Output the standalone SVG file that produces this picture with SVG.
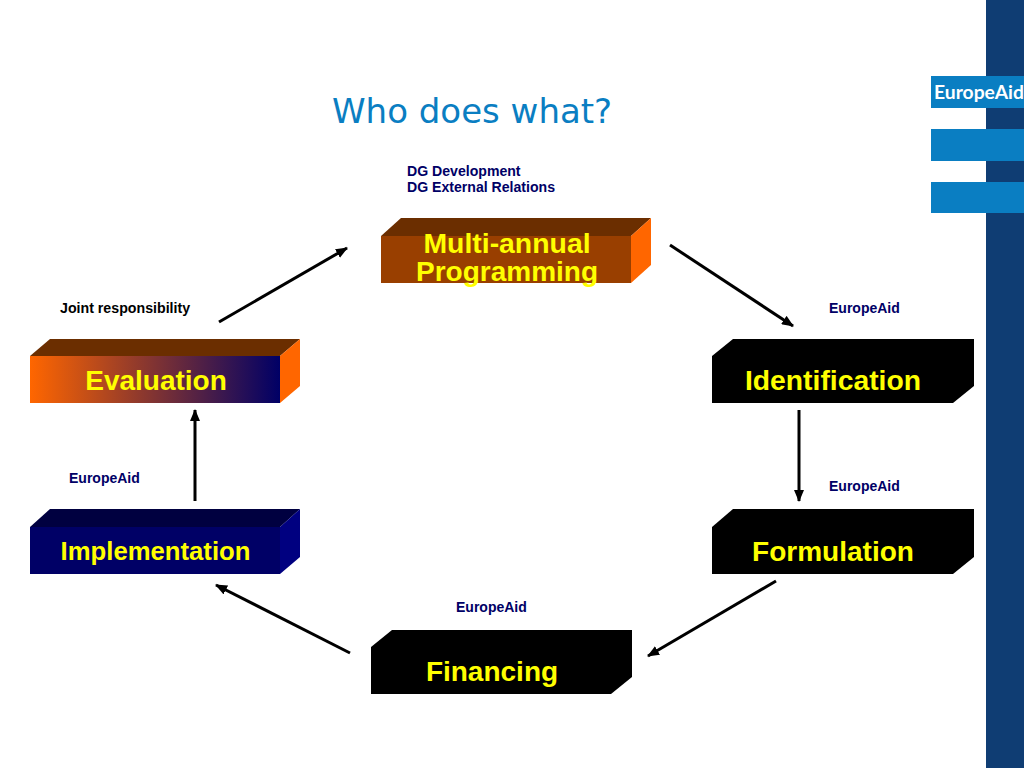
<svg xmlns="http://www.w3.org/2000/svg" width="1024" height="768" viewBox="0 0 1024 768">
<style>
.t{font-family:"Liberation Sans",Arial,sans-serif;font-weight:bold;font-size:28px;fill:#ffff00;text-anchor:middle}
.l{font-family:"Liberation Sans",Arial,sans-serif;font-weight:bold;font-size:14px;fill:#000066}
.c{stroke:#000;stroke-width:3;fill:none;marker-end:url(#a)}
.b{fill:#000}
</style>
<defs>
<marker id="a" markerUnits="userSpaceOnUse" markerWidth="12" markerHeight="10" refX="11" refY="5" orient="auto"><path d="M0 0L12 5L0 10Z" fill="#000"/></marker>
<linearGradient id="g"><stop offset="0" stop-color="#ff6600"/><stop offset="1" stop-color="#000066"/></linearGradient>
</defs>
<rect width="1024" height="768" fill="#fff"/>
<g id="brand">
<rect x="986" width="38" height="768" fill="#0f3d73"/>
<rect x="931" y="76" width="93" height="32" fill="#0a7ec2"/>
<rect x="931" y="129" width="93" height="32" fill="#0a7ec2"/>
<rect x="931" y="182" width="93" height="31" fill="#0a7ec2"/>
<text x="934" y="99" font-family="Lato,sans-serif" font-weight="bold" font-size="19.3" fill="#fff">EuropeAid</text>
</g>
<text id="title" x="332" y="123" font-family="'DejaVu Sans',sans-serif" font-size="34" fill="#0a7ec2">Who does what?</text>
<g id="connectors">
<line class="c" x1="219" y1="322" x2="347" y2="248"/>
<line class="c" x1="670" y1="245" x2="793" y2="326"/>
<line class="c" x1="799" y1="410" x2="799" y2="501"/>
<line class="c" x1="776" y1="581" x2="648" y2="656"/>
<line class="c" x1="350" y1="653" x2="216" y2="585"/>
<line class="c" x1="195" y1="501" x2="195" y2="410"/>
</g>
<g id="programming">
<path d="M381 236L401 218H651L631 236Z" fill="#6b2e00"/>
<path d="M631 236L651 218V265L631 283Z" fill="#ff6600"/>
<rect x="381" y="236" width="250" height="47" fill="#993f00"/>
<text class="t" x="507" y="253" style="font-size:28.4px">Multi-annual</text>
<text class="t" x="507" y="281">Programming</text>
<text class="l" x="407" y="176" style="font-size:14.1px">DG Development</text>
<text class="l" x="407" y="192" style="font-size:14.1px">DG External Relations</text>
</g>
<g id="identification">
<path class="b" d="M712 356L733 339H974V386L953 403H712Z"/>
<text class="t" x="833" y="390" style="font-size:28.3px">Identification</text>
<text class="l" x="829" y="313">EuropeAid</text>
</g>
<g id="formulation">
<path class="b" d="M712 527L733 509H974V557L953 574H712Z"/>
<text class="t" x="833" y="561">Formulation</text>
<text class="l" x="829" y="491">EuropeAid</text>
</g>
<g id="financing">
<path class="b" d="M371 647L392 630H632V677L611 694H371Z"/>
<text class="t" x="492" y="681">Financing</text>
<text class="l" x="456" y="612">EuropeAid</text>
</g>
<g id="implementation">
<path d="M30 527L50 509H300L280 527Z" fill="#000040"/>
<path d="M280 527L300 509V557L280 574Z" fill="#000080"/>
<rect x="30" y="527" width="250" height="47" fill="#000066"/>
<text class="t" x="155.500" y="560" style="font-size:25.7px">Implementation</text>
<text class="l" x="69" y="483">EuropeAid</text>
</g>
<g id="evaluation">
<path d="M30 356L50 339H300L280 356Z" fill="#6b2e00"/>
<path d="M280 356L300 339V386L280 403Z" fill="#ff6600"/>
<rect x="30" y="356" width="250" height="47" fill="url(#g)"/>
<text class="t" x="156" y="390">Evaluation</text>
<text class="l" x="60" y="313" style="fill:#000;font-size:14.2px">Joint responsibility</text>
</g>
</svg>
